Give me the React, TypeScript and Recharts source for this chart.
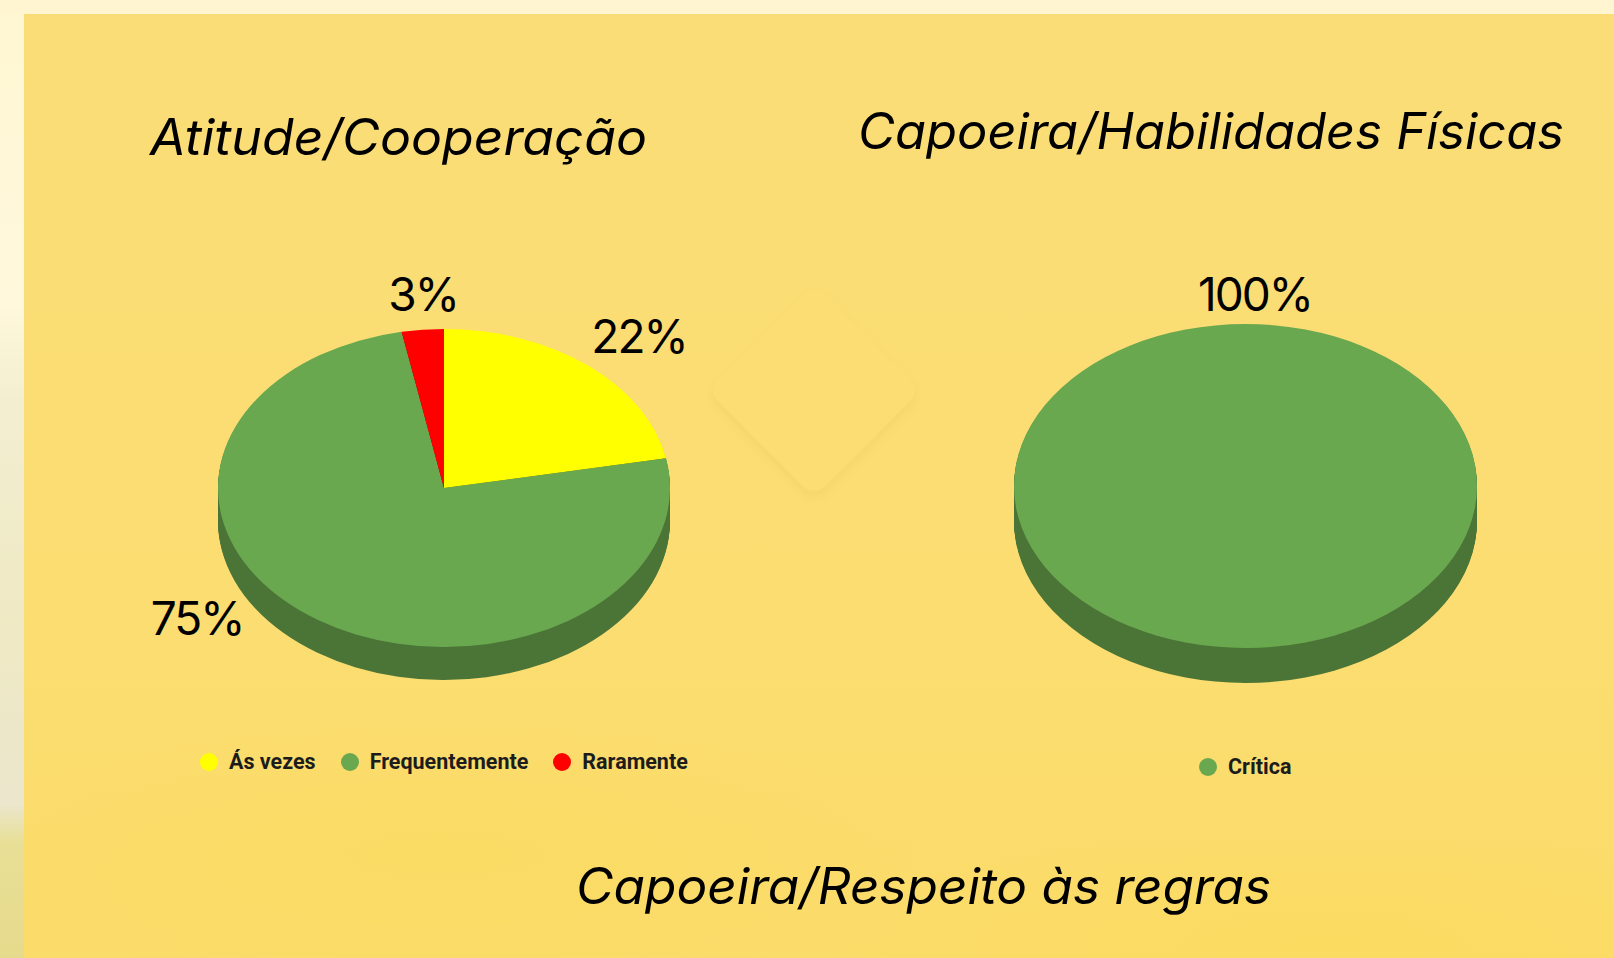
import { PieChart, Pie, Sector, Legend } from "recharts";

const attitudeLabels = ["Ás vezes", "Frequentemente", "Raramente"];
const attitudeValues = [22, 75, 3];
const physicalLabels = ["Crítica"];
const physicalValues = [100];

const topColors: Record<string, string> = {
  "Ás vezes": "#ffff00",
  Frequentemente: "#6aa84f",
  Raramente: "#ff0000",
  Crítica: "#6aa84f",
};
const sideColors: Record<string, string> = {
  "Ás vezes": "#8c8c00",
  Frequentemente: "#4b7537",
  Raramente: "#8c0000",
  Crítica: "#4b7537",
};

const titles = [
  { text: "Atitude/Cooperação", x: 150, y: 155, w: 497 },
  { text: "Capoeira/Habilidades Físicas", x: 858, y: 149, w: 706 },
  { text: "Capoeira/Respeito às regras", x: 576, y: 904, w: 695 },
];

const attitudeLabelPos = [
  { x: 639, y: 353 },
  { x: 197, y: 635 },
  { x: 423, y: 311 },
];
const physicalLabelPos = [{ x: 1255, y: 311 }];

const toRows = (labels: string[], values: number[]) =>
  labels.map((name, i) => ({ name, value: values[i] }));

const FlatSlice = (props: any) => {
  const { cy, payload, squash } = props;
  const fill = topColors[payload.name];
  return (
    <g transform={`translate(0 ${cy}) scale(1 ${squash}) translate(0 ${-cy})`}>
      <Sector {...props} fill={fill} stroke="none" />
    </g>
  );
};

const SideSlice = (props: any) => {
  const { cy, payload, squash, depth } = props;
  const fill = sideColors[payload.name];
  const layers = [];
  for (let i = 1; i <= depth; i++) {
    layers.push(
      <g key={i} transform={`translate(0 ${cy + i}) scale(1 ${squash}) translate(0 ${-cy})`}>
        <Sector {...props} fill={fill} stroke="none" />
      </g>
    );
  }
  return <g>{layers}</g>;
};

const LegendRow = ({ names }: any) => (
  <div style={{ display: "flex", alignItems: "center", fontFamily: "Roboto", fontWeight: 700, fontSize: 21.5, color: "#1c1c1c" }}>
    {names.map((name: string) => (
      <div key={name} style={{ display: "flex", alignItems: "center", marginRight: 25, whiteSpace: "nowrap" }}>
        <span
          style={{
            width: 18,
            height: 18,
            borderRadius: 9,
            marginRight: 11,
            background: topColors[name],
          }}
        />
        {name}
      </div>
    ))}
  </div>
);

type Props = {
  rows: { name: string; value: number }[];
  labelPos: { x: number; y: number }[];
  cx: number;
  cy: number;
  rx: number;
  ry: number;
  depth: number;
  legendX: number;
  legendY: number;
};

const TiltedPie = ({ rows, labelPos, cx, cy, rx, ry, depth, legendX, legendY }: Props) => {
  const squash = ry / rx;
  const label = ({ index, percent }: any) => (
    <text
      x={labelPos[index].x}
      y={labelPos[index].y}
      textAnchor="middle"
      fontFamily="Inter"
      fontSize={46}
      letterSpacing={-2}
      fill="#000"
    >
      {Math.round(percent * 100)}%
    </text>
  );
  return (
    <PieChart
      width={1614}
      height={958}
      margin={{ top: 0, right: 0, bottom: 0, left: 0 }}
      style={{ position: "absolute", left: 0, top: 0 }}
    >
      <Pie
        data={rows}
        dataKey="value"
        nameKey="name"
        cx={cx}
        cy={cy}
        outerRadius={rx}
        startAngle={90}
        endAngle={-270}
        legendType="none"
        isAnimationActive={false}
        shape={(p: any) => <SideSlice {...p} squash={squash} depth={depth} />}
      />
      <Pie
        data={rows}
        dataKey="value"
        nameKey="name"
        cx={cx}
        cy={cy}
        outerRadius={rx}
        startAngle={90}
        endAngle={-270}
        stroke="none"
        labelLine={false}
        label={label}
        isAnimationActive={false}
        shape={(p: any) => <FlatSlice {...p} squash={squash} />}
      />
      <Legend
        layout="horizontal"
        align="center"
        verticalAlign="middle"
        content={<LegendRow names={rows.map((r) => r.name)} />}
        wrapperStyle={{ left: legendX, top: legendY, width: "auto" }}
      />
    </PieChart>
  );
};

export default function App() {
  return (
    <div
      style={{
        position: "absolute",
        left: 0,
        top: 0,
        width: 1614,
        height: 958,
        overflow: "hidden",
        background:
          "linear-gradient(180deg, #fff6d2 0%, #fff8dc 32%, #f3eed0 42%, #efe9c4 65%, #ebe6cc 84%, #e8df96 88%, #e6da8c 100%)",
      }}
    >
      <div
        style={{
          position: "absolute",
          left: 0,
          top: 0,
          width: 1614,
          height: 14,
          background: "#fff5d0",
        }}
      />
      <div
        style={{
          position: "absolute",
          left: 24,
          top: 14,
          width: 1590,
          height: 944,
          background:
            "radial-gradient(ellipse 500px 130px at 420px 840px, #fadb63 0%, rgba(250,219,99,0) 100%), radial-gradient(ellipse 500px 120px at 1300px 930px, #fbdb60 0%, rgba(251,219,96,0) 100%), linear-gradient(180deg, #fbdd78 0%, #fbdd72 60%, #fbdc6a 100%)",
        }}
      />
      <div
        style={{
          position: "absolute",
          left: 738,
          top: 314,
          width: 152,
          height: 152,
          borderRadius: 16,
          transform: "rotate(45deg)",
          background: "#fbdd74",
          boxShadow: "4px 4px 8px rgba(214,180,70,0.16)",
        }}
      />
      <TiltedPie
        rows={toRows(attitudeLabels, attitudeValues)}
        labelPos={attitudeLabelPos}
        cx={444}
        cy={488}
        rx={226}
        ry={159}
        depth={33}
        legendX={200}
        legendY={749}
      />
      <TiltedPie
        rows={toRows(physicalLabels, physicalValues)}
        labelPos={physicalLabelPos}
        cx={1245.5}
        cy={486}
        rx={231.5}
        ry={162}
        depth={35}
        legendX={1199}
        legendY={754}
      />
      <svg width={1614} height={958} style={{ position: "absolute", left: 0, top: 0 }}>
        {titles.map((t) => (
          <text
            key={t.text}
            x={t.x}
            y={t.y}
            fontFamily="Inter"
            fontStyle="italic"
            fontSize={50}
            fill="#000"
            textLength={t.w}
            lengthAdjust="spacingAndGlyphs"
          >
            {t.text}
          </text>
        ))}
      </svg>
    </div>
  );
}
